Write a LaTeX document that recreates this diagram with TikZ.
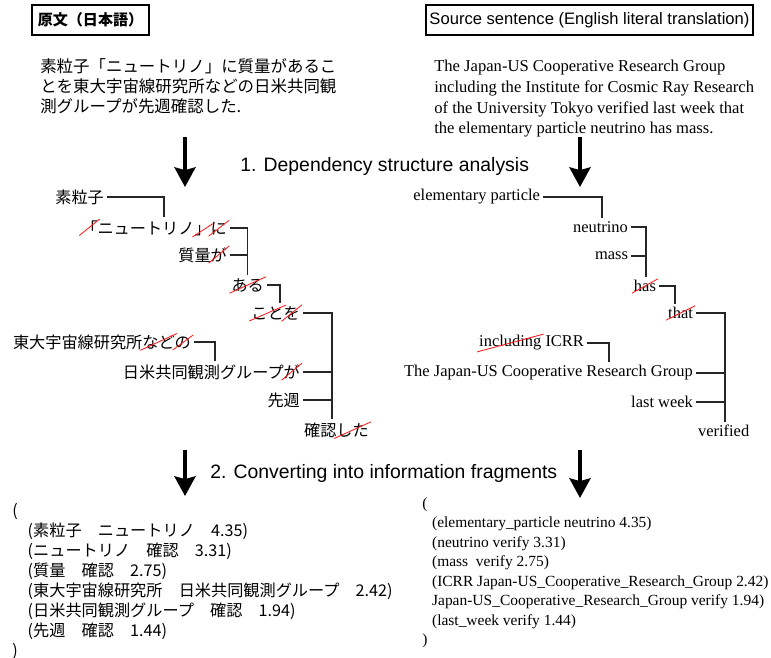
\documentclass[tikz,border=0pt]{standalone}
\usepackage{fontspec}
\setmainfont{Liberation Serif}
\newfontfamily\jpfont{Noto Sans CJK JP}
\newfontfamily\headfont{Liberation Sans}
\usepackage{xcolor}
\definecolor{cutRed}{HTML}{FF1A1A}
\definecolor{lineGray}{gray}{0.15}
\usepackage{tikz}
\usetikzlibrary{arrows.meta}

% a word that the analysis drops: struck through in red
\newcommand{\cutword}[1]{\tikz[baseline=(cw.base)]{%
  \node[inner sep=0pt, outer sep=0pt, anchor=center, draw=none, fill=none] (cw) {#1};
  \draw[cutRed, line width=0.6pt, overlay] ([shift={(-1.5pt,-1pt)}]cw.south west) -- ([shift={(1.5pt,1pt)}]cw.north east);}}

\begin{document}
\begin{tikzpicture}[x=0.025cm, y=-0.025cm,
    jtext/.style={font=\jpfont\fontsize{11.5}{14}\selectfont, inner sep=2pt},
    etext/.style={font=\fontsize{11.7}{14}\selectfont, inner sep=2pt},
    tree/.style={draw=lineGray, line width=0.9pt},
    stage/.style={-{Stealth[length=14pt, width=15pt, inset=2pt]}, line width=2.4pt},
    headbox/.style={draw, line width=0.8pt, minimum height=21.3pt, inner sep=0pt}]
  \useasboundingbox (0,0) rectangle (771,658);

  % ---------------- the two source sentences ----------------
  \node[headbox, minimum width=83.2pt, font=\jpfont\bfseries\fontsize{10.7}{12}\selectfont] (hdja) at (90.5,20) {原文（日本語）};
  \node[headbox, minimum width=232.6pt, font=\headfont\fontsize{11.8}{14}\selectfont] (hden) at (589.5,20) {Source sentence (English literal translation)};

  \node[anchor=north west, inner sep=0pt, align=left, font=\jpfont\fontsize{11.7}{14.2}\selectfont] (srcja) at (40,58)
    {素粒子「ニュートリノ」に質量があるこ\\とを東大宇宙線研究所などの日米共同観\\測グループが先週確認した.};
  \node[anchor=north west, inner sep=0pt, align=left, font=\fontsize{11.8}{14.7}\selectfont] (srcen) at (434,60)
    {The Japan-US Cooperative Research Group\\including the Institute for Cosmic Ray Research\\of the University Tokyo verified last week that\\the elementary particle neutrino has mass.};

  % ---------------- step 1 ----------------
  \coordinate (ja1top) at (185,137); \coordinate (ja1bot) at (185,187);
  \coordinate (en1top) at (580,137); \coordinate (en1bot) at (580,187);
  \draw[stage] (ja1top) -- (ja1bot);
  \draw[stage] (en1top) -- (en1bot);
  \node[anchor=base west, inner sep=0pt, font=\headfont\fontsize{13.8}{16}\selectfont] (step1) at (240,171) {1. Dependency structure analysis};

  % ---------------- Japanese dependency tree ----------------
  \node[jtext, anchor=east] (j1) at (107,197) {素粒子};
  \node[jtext, anchor=east] (j2) at (230,228) {\cutword{「}ニュートリノ\cutword{」}\cutword{に}};
  \node[jtext, anchor=east] (j3) at (230,255) {質量\cutword{が}};
  \node[jtext, anchor=east] (j4) at (267,285) {\cutword{ある}};
  \node[jtext, anchor=east] (j5) at (303,313) {\cutword{こと}\cutword{を}};
  \node[jtext, anchor=east] (j6) at (194,342) {東大宇宙線研究所\cutword{など}\cutword{の}};
  \node[jtext, anchor=east] (j7) at (303,372) {日米共同観測グループ\cutword{が}};
  \node[jtext, anchor=east] (j8) at (303,400) {先週};
  \node[jtext, anchor=west] (j9) at (301,430) {確認\cutword{した}};

  \draw[tree] (j1.east) -| (j2.north -| 164,0);
  \draw[tree] (j2.east) -| (j4.north);
  \draw[tree] (j3.east) -| (j4.north);
  \draw[tree] (j4.east) -| (j5.north -| 280,0);
  \draw[tree] (j5.east) -| (j9.north -| 332,0);
  \draw[tree] (j6.east) -| (j7.north -| 215,0);
  \draw[tree] (j7.east) -| (j9.north -| 332,0);
  \draw[tree] (j8.east) -| (j9.north -| 332,0);

  % ---------------- English dependency tree ----------------
  \node[etext, anchor=east] (e1) at (543,197) {elementary particle};
  \node[etext, anchor=east] (e2) at (631,227) {neutrino};
  \node[etext, anchor=east] (e3) at (631,256) {mass};
  \node[etext, anchor=east] (e4) at (659,286) {\cutword{has}};
  \node[etext, anchor=east] (e5) at (696,313) {\cutword{that}};
  \node[etext, anchor=east] (e6) at (587,343) {\cutword{including} ICRR};
  \node[etext, anchor=east] (e7) at (696,373) {The Japan-US Cooperative Research Group};
  \node[etext, anchor=east] (e8) at (696,402) {last week};
  \node[etext, anchor=west] (e9) at (695,431) {verified};

  \draw[tree] (e1.east) -| (e2.north -| 602,0);
  \draw[tree] (e2.east) -| (e4.north -| 646,0);
  \draw[tree] (e3.east) -| (e4.north -| 646,0);
  \draw[tree] (e4.east) -| (e5.north -| 675,0);
  \draw[tree] (e5.east) -| (e9.north -| 725,0);
  \draw[tree] (e6.east) -| (e7.north -| 609,0);
  \draw[tree] (e7.east) -| (e9.north -| 725,0);
  \draw[tree] (e8.east) -| (e9.north -| 725,0);

  % ---------------- step 2 ----------------
  \coordinate (ja2top) at (185,450); \coordinate (ja2bot) at (185,496);
  \coordinate (en2top) at (580,450); \coordinate (en2bot) at (580,498);
  \draw[stage] (ja2top) -- (ja2bot);
  \draw[stage] (en2top) -- (en2bot);
  \node[anchor=base west, inner sep=0pt, font=\headfont\fontsize{13.8}{16}\selectfont] (step2) at (210,478) {2. Converting into information fragments};

  % ---------------- information fragments ----------------
  \node[anchor=north west, inner sep=0pt, align=left, font=\jpfont\fontsize{11.5}{14.2}\selectfont] (fragja) at (12,503)
    {(\\
     \hspace*{11pt}(素粒子　ニュートリノ　4.35)\\
     \hspace*{11pt}(ニュートリノ　確認　3.31)\\
     \hspace*{11pt}(質量　確認　2.75)\\
     \hspace*{11pt}(東大宇宙線研究所　日米共同観測グループ　2.42)\\
     \hspace*{11pt}(日米共同観測グループ　確認　1.94)\\
     \hspace*{11pt}(先週　確認　1.44)\\
     )};
  \node[anchor=north west, inner sep=0pt, align=left, font=\fontsize{11}{13.9}\selectfont] (fragen) at (422,497)
    {(\\
     \hspace*{7pt}(elementary\_particle neutrino 4.35)\\
     \hspace*{7pt}(neutrino verify 3.31)\\
     \hspace*{7pt}(mass\ \ verify 2.75)\\
     \hspace*{7pt}(ICRR Japan-US\_Cooperative\_Research\_Group 2.42)\\
     \hspace*{7pt}Japan-US\_Cooperative\_Research\_Group verify 1.94)\\
     \hspace*{7pt}(last\_week verify 1.44)\\
     )};
\end{tikzpicture}
\end{document}
